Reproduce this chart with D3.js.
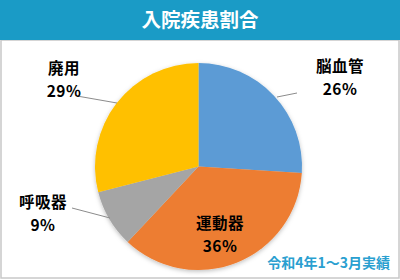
<!DOCTYPE html>
<html><head><meta charset="utf-8">
<script src="https://cdn.jsdelivr.net/npm/d3@7"></script>
<style>body{margin:0;background:#fff}svg{display:block}</style>
</head><body>
<svg id="c" width="400" height="280"></svg>
<script>
const categories = ["脳血管", "運動器", "呼吸器", "廃用"];
const values = [26, 36, 9, 29];
const colors = ["#5b9bd5", "#ed7d31", "#a5a5a5", "#ffc000"];
const title = "入院疾患割合";
const note = "令和4年1〜3月実績";

const svg = d3.select("#c");
const font = "'Noto Sans CJK JP', 'Noto Sans', sans-serif";

// frame
svg.append("rect").attr("x", 1).attr("y", 40).attr("width", 398).attr("height", 238)
  .attr("fill", "#fff").attr("stroke", "#c8c8c8").attr("stroke-width", 1.5);
svg.append("rect").attr("x", 0).attr("y", 0).attr("width", 400).attr("height", 40).attr("fill", "#1a9bc6");
svg.append("text").attr("x", 200).attr("y", 27).attr("text-anchor", "middle")
  .attr("font-family", font).attr("font-weight", "bold").attr("font-size", 19.5)
  .attr("fill", "#fff").text(title);

const cx = 198.5, cy = 166.5, r = 103.5;
const defs = svg.append("defs");
const f = defs.append("filter").attr("id", "sh").attr("x", "-20%").attr("y", "-20%").attr("width", "140%").attr("height", "140%");
f.append("feDropShadow").attr("dx", 0).attr("dy", 1.5).attr("stdDeviation", 2).attr("flood-color", "#000").attr("flood-opacity", 0.25);

const pie = d3.pie().sort(null).value(d => d)(values);
const arc = d3.arc().innerRadius(0).outerRadius(r);
const g = svg.append("g").attr("transform", `translate(${cx},${cy})`).attr("filter", "url(#sh)");
g.selectAll("path").data(pie).join("path").attr("d", arc).attr("fill", (d, i) => colors[i]);

// labels
const labelPos = [
  {x: 340, y: 72, line: [[277, 97], [297, 93]]},
  {x: 220, y: 229, line: null},
  {x: 43, y: 208, line: [[72, 208], [110, 218]]},
  {x: 64, y: 74, line: [[77, 96], [117, 103]]}
];
const lg = svg.append("g");
pie.forEach((d, i) => {
  const p = labelPos[i];
  if (p.line) {
    lg.append("polyline").attr("points", p.line.map(q => q.join(",")).join(" "))
      .attr("fill", "none").attr("stroke", "#8c8c8c").attr("stroke-width", 1);
  }
  const t = lg.append("text").attr("text-anchor", "middle").attr("font-family", font)
    .attr("font-weight", "bold").attr("font-size", 15.5).attr("fill", "#000")
    .attr("letter-spacing", 0.5);
  t.append("tspan").attr("x", p.x).attr("y", p.y).text(categories[i]);
  t.append("tspan").attr("x", p.x).attr("y", p.y + 23).text(d3.format(".0%")(values[i] / 100));
});

svg.append("text").attr("x", 390).attr("y", 268).attr("text-anchor", "end")
  .attr("font-family", font).attr("font-weight", "bold").attr("font-size", 14)
  .attr("fill", "#2a9fd0").text(note);
</script>
</body></html>
